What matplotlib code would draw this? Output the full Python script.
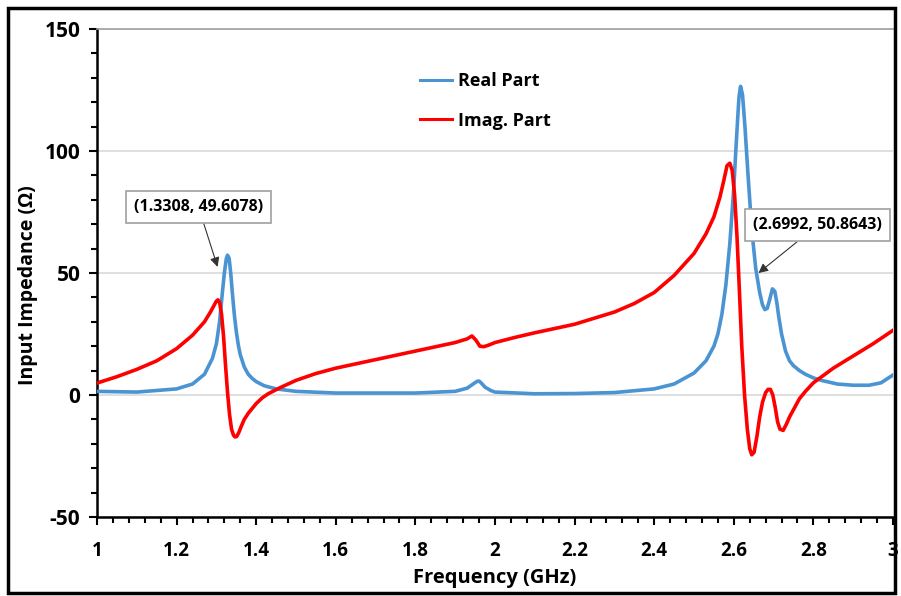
import matplotlib
matplotlib.use("Agg")
import matplotlib.pyplot as plt
from matplotlib.ticker import MultipleLocator
from matplotlib.patches import Rectangle
from matplotlib import font_manager

names = {f.name for f in font_manager.fontManager.ttflist if f.weight in (700, 'bold')}
fam = 'Open Sans' if 'Open Sans' in names else ('Lato' if 'Lato' in names else 'DejaVu Sans')
plt.rcParams['font.family'] = [fam, 'DejaVu Sans']
plt.rcParams['axes.unicode_minus'] = False

freq_real = [1.0, 1.1, 1.2, 1.24, 1.27, 1.29, 1.3, 1.308, 1.315, 1.32, 1.325, 1.328, 1.332, 1.336, 1.34, 1.345,
             1.35, 1.355, 1.36, 1.37, 1.38, 1.39, 1.40, 1.42, 1.45, 1.5, 1.6, 1.8, 1.9, 1.93, 1.945, 1.955, 1.96,
             1.965, 1.975, 1.99, 2.0, 2.1, 2.2, 2.3, 2.4, 2.45, 2.5, 2.53, 2.55, 2.56, 2.57, 2.58,
             2.59, 2.60, 2.605, 2.61, 2.613, 2.617, 2.622, 2.628, 2.635, 2.645, 2.655, 2.665, 2.672,
             2.678, 2.684, 2.69, 2.697, 2.703, 2.708, 2.713, 2.72, 2.73, 2.74, 2.75, 2.765, 2.78, 2.8, 2.82,
             2.86, 2.9, 2.94, 2.97, 3.0]
real_part = [1.5, 1.2, 2.5, 4.5, 8.5, 15, 21, 30, 42, 50, 56, 57.3, 56, 50, 42, 33,
             26, 20.5, 16.5, 11.5, 8.5, 6.8, 5.5, 3.8, 2.5, 1.5, 0.8, 0.8, 1.5, 2.8, 4.5, 5.6, 5.7,
             5.0, 3.2, 1.8, 1.2, 0.5, 0.6, 1.0, 2.5, 4.5, 9, 14, 20, 25, 33, 45,
             62, 85, 100, 114, 122, 126.5, 123, 110, 92, 68, 52, 42, 37,
             35, 35.5, 39, 43.5, 42.5, 38, 32, 25, 18, 14, 12, 10, 8.5, 7, 6,
             4.5, 4, 4, 5, 8.2]

freq_imag = [1.0, 1.05, 1.1, 1.15, 1.2, 1.24, 1.27, 1.285, 1.295, 1.3, 1.304, 1.308, 1.313, 1.318, 1.323,
             1.328, 1.333, 1.338, 1.343, 1.347, 1.351, 1.356, 1.362, 1.37, 1.38, 1.39, 1.40, 1.415, 1.43, 1.46,
             1.5, 1.55, 1.6, 1.7, 1.8, 1.9, 1.93, 1.942, 1.952, 1.962, 1.972, 1.985, 2.0, 2.05, 2.1, 2.2, 2.3,
             2.35, 2.4, 2.45, 2.5, 2.53, 2.55, 2.565, 2.575, 2.583, 2.59, 2.596, 2.602, 2.608, 2.614,
             2.62, 2.627, 2.634, 2.64, 2.645, 2.651, 2.658, 2.665, 2.672, 2.68, 2.686, 2.692,
             2.698, 2.704, 2.71, 2.716, 2.724, 2.732, 2.74, 2.75, 2.765, 2.78, 2.8, 2.85, 2.9,
             2.95, 3.0]
imag_part = [4.9, 7.5, 10.5, 14, 19, 24.5, 30, 34, 37, 38.5, 39, 38, 33, 24, 12,
             1, -8, -14, -16.5, -17.2, -17, -15.5, -13, -10, -7.5, -5.5, -3.5, -1.2, 0.5, 3,
             6, 8.8, 11, 14.5, 18, 21.5, 23, 24.2, 22.5, 20, 19.8, 20.5, 21.5, 23.6, 25.5, 29, 34,
             37.5, 42, 49, 58, 66, 73, 81, 88, 94, 95, 92, 82, 65, 43,
             20, 0, -14, -22, -24.5, -23.5, -17, -9, -3, 1, 2.3, 2.3,
             0, -5, -11, -14, -14.5, -12, -9, -6, -1.5, 1.5, 5, 11, 16,
             21, 26.5]

x_ticks = [1, 1.2, 1.4, 1.6, 1.8, 2, 2.2, 2.4, 2.6, 2.8, 3]
x_tick_labels = ["1", "1.2", "1.4", "1.6", "1.8", "2", "2.2", "2.4", "2.6", "2.8", "3"]
y_ticks = [-50, 0, 50, 100, 150]

fig = plt.figure(figsize=(9.01, 5.96), dpi=100)
ax = fig.add_axes([97/901, (596-517)/596, (893-97)/901, (517-29)/596])

ax.plot(freq_real, real_part, color='#4a94d4', lw=2.6, label='Real Part', zorder=3)
ax.plot(freq_imag, imag_part, color='#ff0000', lw=2.6, label='Imag. Part', zorder=4)

ax.set_xlim(1, 3)
ax.set_ylim(-50, 150)
ax.set_xticks(x_ticks)
ax.set_xticklabels(x_tick_labels)
ax.set_yticks(y_ticks)
ax.xaxis.set_minor_locator(MultipleLocator(0.04))
ax.yaxis.set_minor_locator(MultipleLocator(10))
ax.tick_params(axis='both', which='major', direction='out', length=6, width=1.5, colors='black')
ax.tick_params(axis='both', which='minor', direction='out', length=4, width=1.5, colors='black')
ax.tick_params(axis='y', labelsize=15, pad=6)
ax.tick_params(axis='x', labelsize=13.5, pad=11)
for lab in ax.get_xticklabels() + ax.get_yticklabels():
    lab.set_fontweight('bold')

ax.grid(axis='y', which='major', color='#d9d9d9', lw=1.2, zorder=0)
ax.set_axisbelow(True)
ax.spines['left'].set_linewidth(1.8)
ax.spines['bottom'].set_linewidth(1.8)
ax.spines['top'].set_color('#a0a0a0')
ax.spines['top'].set_linewidth(1.2)
ax.spines['right'].set_visible(False)

ax.set_xlabel('Frequency (GHz)', fontsize=14.5, fontweight='bold', labelpad=5)
ax.set_ylabel('Input Impedance (Ω)', fontsize=14, fontweight='bold')
ax.yaxis.set_label_coords(-0.074, 0.475)

leg = ax.legend(loc='upper left', bbox_to_anchor=(0.385, 0.945), frameon=False,
                prop={'weight': 'bold', 'size': 13}, handlelength=1.8, handletextpad=0.3,
                labelspacing=1.2)
for line in leg.get_lines():
    line.set_linewidth(2.2)

ax.annotate('(1.3308, 49.6078)', xy=(1.303, 52.5), xytext=(1.255, 77),
            fontsize=11.5, fontweight='bold', ha='center', va='center',
            bbox=dict(boxstyle='square,pad=0.5', fc='white', ec='#a0a0a0', lw=1.2),
            arrowprops=dict(arrowstyle='-|>', color='#333333', lw=0.8, shrinkA=0, shrinkB=0,
                            mutation_scale=14))
ax.annotate('(2.6992, 50.8643)', xy=(2.662, 50), xytext=(2.81, 69.5),
            fontsize=11.5, fontweight='bold', ha='center', va='center',
            bbox=dict(boxstyle='square,pad=0.5', fc='white', ec='#a0a0a0', lw=1.2),
            arrowprops=dict(arrowstyle='-|>', color='#333333', lw=0.8, shrinkA=0, shrinkB=0,
                            mutation_scale=14))

fig.patches.append(Rectangle((8/901, 3/596), (895-8)/901, (588-3)/596,
                             transform=fig.transFigure, fill=False, ec='black', lw=2.5))

fig.savefig('out.png', dpi=100)
